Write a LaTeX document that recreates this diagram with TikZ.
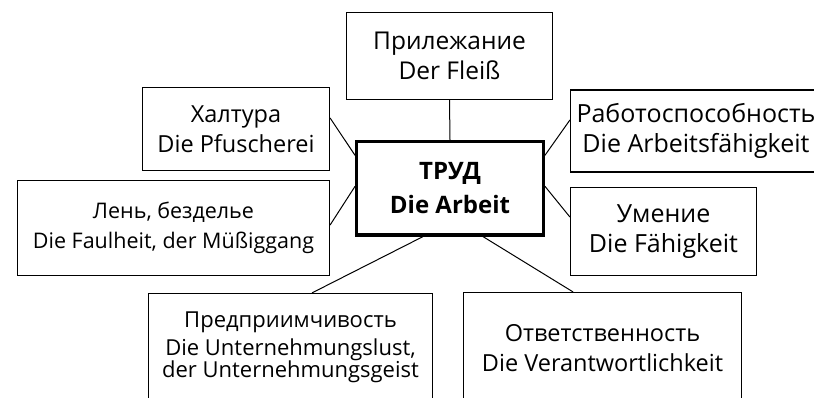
\documentclass[tikz,border=0pt]{standalone}
\usepackage{fontspec}
\setmainfont{Open Sans}

\begin{document}
\begin{tikzpicture}[x=1pt, y=-1pt, line width=1pt,
        fs/.style={font=\fontsize{#1}{30}\selectfont},
        box/.style={draw, line width=1.2pt, inner sep=0pt, align=center, fs=23.5},
        core/.style={box, line width=3.3pt, font=\bfseries\fontsize{24}{34}\selectfont}]
        \clip (0,0) rectangle (814,397);
        \node [box, fs=24.5, minimum width=206pt, minimum height=87pt] (1) at (449.5,56) {Прилежание\\ Der Fleiß};
        \node [box, minimum width=187pt, minimum height=83pt] (2) at (236,129) {Халтура\\ Die Pfuscherei};
        \node [box, fs=25, minimum width=251pt, minimum height=82pt] (3) at (696,131) {Работоспособность\\ Die Arbeitsfähigkeit};
        \node [box, fs=21.5, minimum width=312pt, minimum height=95pt] (5) at (173.5,228) {Лень, безделье\\ Die Faulheit, der Müßiggang};
        \node [box, fs=25, minimum width=186pt, minimum height=88pt] (6) at (663.5,231.5) {Умение\\ Die Fähigkeit};
        \node [box, font=\fontsize{22}{28}\selectfont, minimum width=284pt, minimum height=107pt] (7) at (290.5,347) {Предприимчивость\\ Die Unternehmungslust,\\[-6pt] der Unternehmungsgeist};
        \node [box, minimum width=278pt, minimum height=111pt] (8) at (602.5,348) {Ответственность\\ Die Verantwortlichkeit};
        \node [core, minimum width=186.6pt, minimum height=93.3pt] (4) at (450,188.3) {ТРУД\\ Die Arbeit};
        \draw [-] (1.south) to (4.north);
        \draw [-] ([yshift=11pt]2.east) to ([yshift=33pt]4.west);
        \draw [-] ([yshift=3pt]5.east) to ([yshift=2pt]4.west);
        \draw [-] ([yshift=33pt]4.east) to ([yshift=11pt]3.west);
        \draw [-] ([yshift=2pt]4.east) to ([yshift=14.5pt]6.west);
        \draw [-] ([xshift=-27pt]4.south) to ([xshift=21.5pt]7.north);
        \draw [-] ([xshift=33pt]4.south) to ([xshift=-29.5pt]8.north);
      \end{tikzpicture}
\end{document}
